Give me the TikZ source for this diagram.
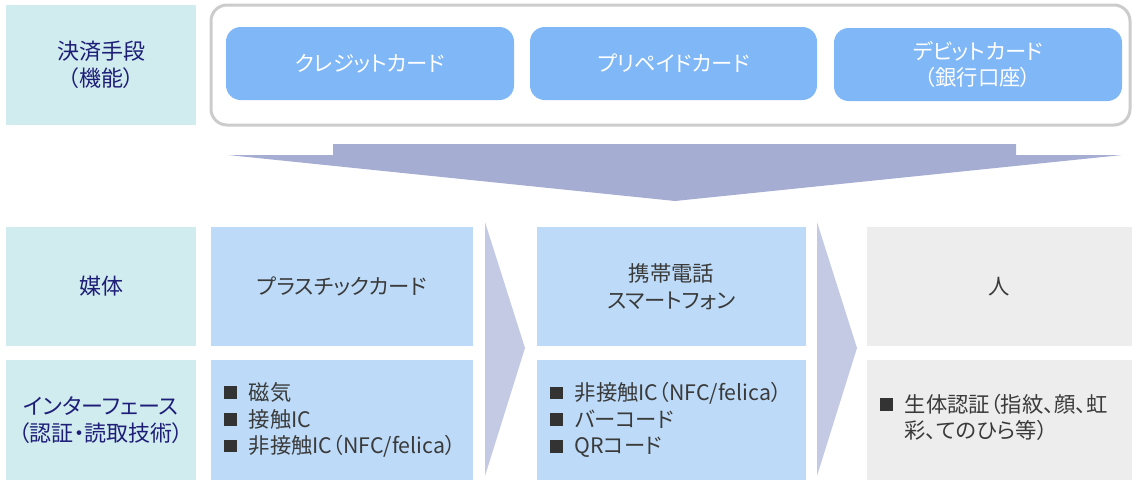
\documentclass[tikz,border=0pt]{standalone}
\usepackage{fontspec}
\setmainfont{Noto Sans CJK JP}[RawFeature=+palt]
\definecolor{lblfill}{HTML}{D0ECEE}
\definecolor{navy}{HTML}{1E1E78}
\definecolor{midfill}{HTML}{BDDBF8}
\definecolor{grayfill}{HTML}{EDEDED}
\definecolor{cardfill}{HTML}{80B7F6}
\definecolor{framecol}{HTML}{CCCCCC}
\definecolor{txt}{HTML}{3A3A3A}
\definecolor{bigarrow}{HTML}{A6ADD3}
\definecolor{smallarrow}{HTML}{C5CAE4}
\definecolor{sq}{HTML}{333333}
\newcommand{\bsq}{\mbox{\color{sq}\rule[1pt]{9.5pt}{9.5pt}}\nobreak\hspace{9pt}\nobreak}
\tikzset{
  every node/.style={font=\fontsize{16}{20}\selectfont},
  lbl/.style={fill=lblfill, text=navy, align=center, inner sep=0pt, minimum width=142.5pt, font=\fontsize{16.5}{20.5}\selectfont},
  midbox/.style={fill=midfill, text=txt, align=center, inner sep=0pt},
  persbox/.style={fill=grayfill, text=txt, align=center, inner sep=0pt},
  bullets/.style={align=left, inner xsep=9.75pt, inner ysep=0pt, text=txt},
  cardbox/.style={fill=cardfill, text=white, align=center, inner sep=0pt, rounded corners=11pt, minimum height=54.75pt},
}
\begin{document}
\begin{tikzpicture}[x=0.75pt,y=-0.75pt]
\useasboundingbox (0,0) rectangle (1132,480);
% left labels
\node[lbl, minimum height=90pt] (fn) at (101,65) {決済手段\\（機能）};
\node[lbl, minimum height=89.25pt] (med) at (101,286.5) {媒体};
\node[lbl, minimum height=90pt] (iface) at (101,420) {インターフェース\\（認証・読取技術）};
% top frame
\node[draw=framecol, line width=2.25pt, rounded corners=12pt, minimum width=689.25pt, minimum height=90pt, inner sep=0pt] (frame) at (670.5,65) {};
\node[cardbox, minimum width=216pt] (credit) at (370,63.5) {クレジットカード};
\node[cardbox, minimum width=215.25pt] (prepaid) at (673.5,63.5) {プリペイドカード};
\node[cardbox, minimum width=216pt] (debit) at (978,64.5) {デビットカード\\（銀行口座）};
% big down arrow
\fill[bigarrow] (333,144) -- (1016,144) -- (1016,155) -- (1122,155) -- (675,201) -- (228,155) -- (333,155) -- cycle;
% media row
\node[midbox, minimum width=196.5pt, minimum height=89.25pt] (plastic) at (342,286.5) {プラスチックカード};
\node[midbox, minimum width=201.75pt, minimum height=89.25pt] (mobile) at (671.5,286.5) {携帯電話\\スマートフォン};
\node[persbox, minimum width=198.75pt, minimum height=89.25pt] (person) at (999.5,286.5) {人};
% interface row
\node[midbox, bullets, minimum width=196.5pt, text width=177pt, minimum height=90pt] (plasticif) at (342,420) {\bsq 磁気\\\bsq 接触IC\\\bsq 非接触IC（NFC/felica）};
\node[midbox, bullets, minimum width=201.75pt, text width=182.25pt, minimum height=90pt] (mobileif) at (671.5,420) {\bsq 非接触IC（NFC/felica）\\\bsq バーコード\\\bsq QRコード};
\node[persbox, bullets, minimum width=198.75pt, text width=179.25pt, minimum height=90pt] (personif) at (999.5,420) {\begin{tabular}{@{}l@{}l@{}}\bsq & 生体認証（指紋、顔、虹\\ & 彩、てのひら等）\end{tabular}};
% chevron arrows
\fill[smallarrow] (485,222) -- (525,348) -- (485,476) -- cycle;
\fill[smallarrow] (817,222) -- (857,348) -- (817,476) -- cycle;
\end{tikzpicture}
\end{document}
